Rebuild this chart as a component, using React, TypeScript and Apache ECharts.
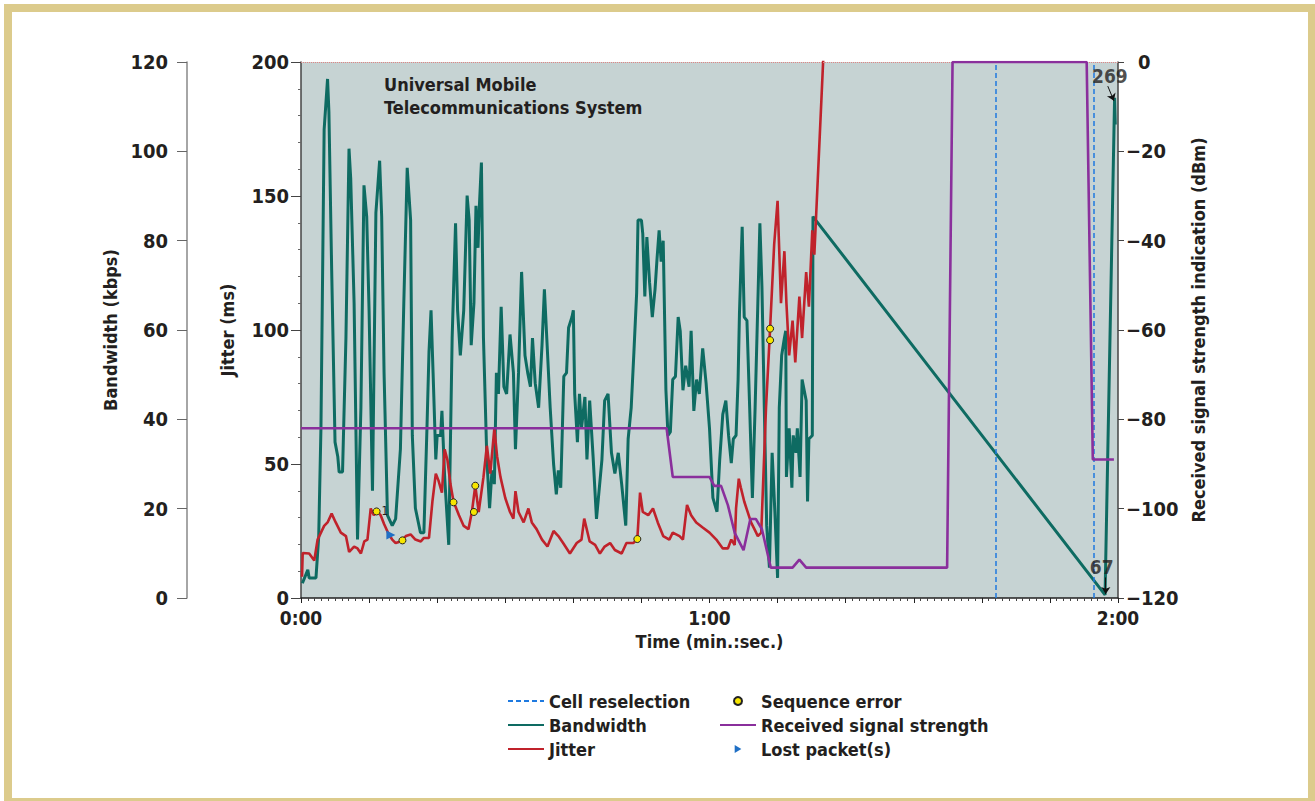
import React, { useEffect, useRef } from "react";
import * as echarts from "echarts";

const FONT = "'Liberation Sans Narrow', 'DejaVu Sans Condensed', 'Roboto Condensed', 'Liberation Sans', Arial, sans-serif";
const INK = "#231f20";

// ---- data (time in seconds) ----
const timeTickLabels = ["0:00", "1:00", "2:00"];
const bandwidthTicks = [0, 20, 40, 60, 80, 100, 120];
const jitterTicks = [0, 50, 100, 150, 200];
const rssiTicks = [-120, -100, -80, -60, -40, -20, 0];

const bandwidthTime = [
  0.2, 1.0, 1.2, 2.2, 2.6, 2.93, 3.4, 3.9, 4.1, 4.5, 5.0, 5.4, 5.6, 6.1, 6.6, 7.05, 7.3, 7.8, 8.3, 8.8,
  9.25, 9.65, 10.0, 10.5, 11.0, 11.55, 11.85, 12.2, 12.7, 13.4, 13.9, 14.6, 15.1, 15.6, 16.1, 16.35, 16.8, 17.55, 18.05, 18.5,
  18.8, 19.1, 19.4, 19.8, 20.0, 20.5, 20.7, 21.1, 21.7, 22.2, 22.7, 23.0, 23.4, 23.9, 24.4, 24.7, 25.0, 25.4, 25.7, 26.0,
  26.2, 26.5, 26.8, 27.3, 27.7, 28.05, 28.4, 28.7, 29.0, 29.4, 29.8, 30.2, 30.7, 31.2, 31.5, 31.95, 32.4, 32.9, 33.3, 33.7,
  34.0, 34.4, 34.9, 35.4, 35.75, 36.1, 36.6, 37.1, 37.5, 37.8, 38.15, 38.6, 39.0, 39.3, 39.8, 40.0, 40.2, 40.6, 40.9, 41.2,
  41.7, 42.0, 42.4, 42.9, 43.4, 44.2, 44.6, 45.1, 45.6, 46.1, 46.6, 47.1, 47.7, 48.05, 48.5, 48.9, 49.3, 49.5, 50.0, 50.2,
  50.5, 50.8, 51.2, 51.6, 52.0, 52.3, 52.6, 52.9, 53.2, 53.6, 53.9, 54.25, 54.6, 55.0, 55.4, 55.7, 56.1, 56.5, 57.0, 57.3,
  57.7, 58.1, 58.5, 59.0, 59.5, 60.0, 60.5, 61.1, 61.5, 61.95, 62.4, 62.8, 63.2, 63.5, 63.9, 64.2, 64.4, 64.8, 65.1, 65.5,
  65.9, 66.3, 66.7, 67.1, 67.4, 67.7, 68.05, 68.4, 68.8, 69.2, 69.6, 70.0, 70.25, 70.6, 71.0, 71.2, 71.3, 71.7, 72.1, 72.3,
  72.7, 72.9, 73.3, 73.6, 74.2, 74.4, 74.6, 75.1, 75.2, 118.1, 119.5, 119.6,
];
const bandwidthValue = [
  3.3, 6.3, 4.5, 4.5, 13.7, 38, 104.9, 116.2, 108.8, 73.8, 34.9, 31.7, 28.2, 28.2, 58.2, 100.6, 94, 66, 13.1, 42.6,
  92.4, 85.4, 64.4, 24, 86.2, 97.9, 85.4, 50.4, 18.5, 16.2, 17.7, 33.3, 66, 96.3, 84.6, 36.4, 20.1, 14.6, 14.6, 38,
  55.1, 64.4, 50.4, 31, 36.4, 36.4, 41.9, 27.1, 11.9, 58.2, 83.9, 64.4, 54.3, 64.4, 90.1, 84.6, 56.6, 66, 87.8, 78.4,
  87.8, 97.5, 58.2, 31, 20.1, 28.6, 25.5, 50.4, 45.7, 65.2, 47.3, 45.7, 59, 50.4, 33.3, 50.4, 73, 54.3, 50.4, 47.3,
  58.2, 48.1, 42.6, 56.6, 69.1, 58.2, 42.6, 30, 23.2, 28.6, 24.7, 49.6, 50.4, 60.5, 62.9, 64.4, 45.7, 34.9, 45.7, 38,
  45, 31, 44.2, 31.7, 17.7, 31, 44.2, 45.7, 32.5, 27.9, 32.5, 25.5, 16.2, 35.6, 42.6, 55.1, 68.3, 84.6, 84.6, 81.5,
  67.5, 80.8, 70.6, 62.9, 69.1, 76.1, 82.3, 75.3, 80, 46.5, 36.4, 37.2, 48.9, 49.6, 62.9, 59.8, 46.5, 52, 47.3, 59.8,
  41.9, 48.9, 45.7, 55.9, 48.1, 38, 22.4, 19.3, 31, 41.1, 44.2, 36.4, 30.2, 35.6, 36.4, 48.9, 63.7, 83.1, 62.9, 62.1,
  42.6, 22.4, 42.6, 66, 83.9, 69.8, 42.6, 16.2, 6.8, 32.5, 19.3, 4.5, 42.6, 54.3, 58.2, 59.8, 27.1, 38, 24.7, 36.4,
  32.5, 38, 27.1, 48.9, 44.2, 21.6, 35.6, 36.4, 85.4, 0.7, 112, 106,
];

const jitterTime = [
  0.15, 0.25, 1.2, 1.95, 2.44, 2.93, 3.4, 3.9, 4.5, 5.1, 5.85, 6.6, 7.07, 7.8, 8.3, 8.8, 9.3, 9.76, 10.24, 10.7,
  11.1, 11.7, 12.2, 12.9, 13.4, 13.9, 14.6, 15.4, 16.1, 16.8, 17.6, 18.05, 18.8, 19.3, 19.8, 20.2, 20.7, 21.1, 21.5, 21.95,
  22.4, 23.2, 23.9, 24.6, 25.1, 25.6, 26.1, 26.8, 27.3, 27.8, 28.4, 28.8, 29.3, 30.0, 30.7, 31.2, 31.5, 31.95, 32.7, 33.4,
  33.9, 34.6, 35.4, 36.2, 37.1, 37.8, 38.5, 39.5, 40.5, 41.2, 41.6, 42.4, 43.2, 43.9, 44.6, 45.4, 46.1, 47.1, 47.8, 48.8,
  49.4, 49.8, 50.2, 51.0, 51.7, 52.4, 53.2, 54.1, 54.6, 55.6, 56.1, 56.7, 57.3, 58.05, 59.0, 60.0, 61.0, 61.95, 62.7, 63.2,
  63.7, 63.9, 64.3, 64.6, 65.1, 65.6, 66.1, 66.6, 67.1, 67.6, 68.3, 68.9, 69.5, 70.0, 70.5, 71.0, 71.3, 71.7, 72.2, 72.6,
  73.2, 73.6, 74.2, 74.6, 75.1, 75.4, 76.7, 77.2,
];
const jitterValue = [
  7.9, 16.8, 16.6, 14.0, 21.8, 24.4, 26.9, 28.2, 31.5, 28.2, 24.4, 23.1, 17.2, 19.2, 18.5, 16.6, 21.1, 21.8, 33.4, 30.9,
  32.4, 30.9, 27.6, 23.7, 21.8, 20.5, 21.1, 23.1, 23.7, 21.8, 21.1, 22.4, 22.4, 36, 46.4, 43.8, 39.3, 55.5, 51.6, 42.5,
  36, 30.9, 26.9, 25.7, 32.1, 41.9, 32.1, 45.1, 56.8, 46.4, 63.3, 52.9, 45.1, 37.3, 32.1, 29.6, 39.9, 32.1, 28.2, 33.4,
  28.2, 25.7, 21.8, 19.2, 25, 23.1, 20.5, 16.6, 20.5, 21.8, 29.6, 21.1, 19.8, 16.6, 19.2, 20.5, 17.9, 16.6, 20.5, 20.5,
  22, 39.3, 32.1, 30.9, 33.4, 28.2, 23.1, 21.8, 24.4, 23.1, 21.8, 34.7, 30.9, 28.2, 26.3, 24.4, 21.8, 18.5, 18.5, 21.8,
  19.8, 33.4, 44.5, 41.2, 36, 32.1, 28.2, 25.7, 23.1, 24.4, 71, 100.5, 132, 148.2, 110, 129.4, 110, 90.5, 103.5, 87.9,
  112.5, 97, 121.6, 108.7, 137.2, 128.1, 200.7, 215,
];

const rssiTime = [0, 53.7, 54.6, 60.0, 60.7, 61.7, 62.7, 63.7, 65.0, 66.0, 66.8, 67.7, 69.0, 72.2, 73.2, 74.2, 94.9, 95.7, 115.4, 116.3, 119.4];
const rssiValue = [-82, -82, -92.9, -92.9, -94.9, -94.9, -99.2, -105.4, -109.3, -102.3, -102.3, -104.6, -113.2, -113.2, -111.4, -113.2, -113.2, 0, 0, -89, -89];

const cellReselectionTime = [102, 116.4];

const seqErrorTime = [11.1, 14.9, 22.4, 25.4, 25.6, 49.4, 68.9, 68.9];
const seqErrorValue = [32.3, 21.5, 35.7, 32.1, 41.9, 22.0, 100.5, 96.2];

const lostPacketTime = [13.2];
const lostPacketValue = [23.5];

// off-scale annotations on the bandwidth trace
const annotationText = ["269", "67"];
const annotationPos = [[118.8, 116.9], [117.6, 6.9]];
const annotationArrowFrom = [[118.5, 114.6], [118.2, 4.6]];
const annotationArrowTo = [[119.4, 111.3], [118.2, 0.9]];

const zip = (a: number[], b: number[]) => a.map((t, i) => [t, b[i]]);

export default function App() {
  const ref = useRef<HTMLDivElement>(null);
  useEffect(() => {
    document.body.style.margin = "0";
    const chart = echarts.init(ref.current!, undefined, { renderer: "svg" });
    const labelStyle = { fontFamily: FONT, fontWeight: "bold" as const, fontSize: 20, lineHeight: 16, color: INK };
    const nameStyle = { fontFamily: FONT, fontWeight: "bold" as const, fontSize: 18, color: INK };
    const hiddenDot = { color: "rgba(0,0,0,0)", borderWidth: 0, opacity: 0 };
    const cellBlue = "#1f7ae0";
    const legendBase = {
      orient: "vertical",
      top: 692,
      padding: 0,
      itemWidth: 36,
      itemHeight: 8,
      itemGap: 6,
      textStyle: { ...nameStyle, lineHeight: 18 },
    };
    chart.setOption({
      animation: false,
      backgroundColor: "#ffffff",
      textStyle: { fontFamily: FONT },
      title: {
        text: "Universal Mobile\nTelecommunications System",
        left: 379,
        top: 68,
        textStyle: { fontFamily: FONT, fontWeight: "bold", fontSize: 18, lineHeight: 23, color: INK },
      },
      grid: {
        left: 301,
        right: 197,
        top: 62,
        bottom: 203,
        show: true,
        backgroundColor: "#c6d3d3",
        borderWidth: 0,
      },
      legend: [
        {
          ...legendBase,
          left: 507,
          data: [
            { name: "Cell reselection", itemStyle: hiddenDot },
            { name: "Bandwidth", itemStyle: hiddenDot },
            { name: "Jitter", itemStyle: hiddenDot },
          ],
        },
        {
          ...legendBase,
          left: 719,
          data: [
            { name: "Sequence error", icon: "circle" },
            { name: "Received signal strength", itemStyle: hiddenDot },
            { name: "Lost packet(s)", icon: "path://M0,0L10,6L0,12Z" },
          ],
        },
      ],
      xAxis: {
        type: "value",
        min: 0,
        max: 120,
        interval: 10,
        name: "Time (min.:sec.)",
        nameLocation: "middle",
        nameGap: 33,
        nameTextStyle: nameStyle,
        axisLine: { show: true, onZero: false, lineStyle: { color: "#222", width: 1.5 } },
        axisTick: { show: true, length: 5, lineStyle: { color: "#222" } },
        minorTick: { show: true, splitNumber: 10, length: 3, lineStyle: { color: "#444" } },
        splitLine: { show: false },
        axisLabel: {
          ...labelStyle,
          fontSize: 19,
          margin: 12,
          formatter: (v: number) => (v % 60 === 0 ? timeTickLabels[v / 60] : ""),
        },
      },
      yAxis: [
        {
          type: "value",
          position: "left",
          min: jitterTicks[0],
          max: jitterTicks[jitterTicks.length - 1],
          interval: 50,
          name: "Jitter (ms)",
          nameLocation: "middle",
          nameRotate: 90,
          nameGap: 65,
          nameTextStyle: nameStyle,
          axisLine: { show: true, lineStyle: { color: "#444", width: 1.5 } },
          axisTick: { show: true, length: 10, lineStyle: { color: "#444" } },
          minorTick: { show: true, splitNumber: 5, length: 3, lineStyle: { color: "#666" } },
          splitLine: { show: false },
          axisLabel: { ...labelStyle, margin: 12 },
        },
        {
          type: "value",
          position: "left",
          offset: 114,
          min: bandwidthTicks[0],
          max: bandwidthTicks[bandwidthTicks.length - 1],
          interval: 20,
          name: "Bandwidth (kbps)",
          nameLocation: "middle",
          nameRotate: 90,
          nameGap: 46,
          nameTextStyle: nameStyle,
          axisLine: { show: true, lineStyle: { color: "#888", width: 1.5 } },
          axisTick: { show: true, length: 10, lineStyle: { color: "#666" } },
          splitLine: { show: false },
          axisLabel: { ...labelStyle, margin: 19 },
        },
        {
          type: "value",
          position: "right",
          min: rssiTicks[0],
          max: rssiTicks[rssiTicks.length - 1],
          interval: 20,
          name: "Received signal strength indication (dBm)",
          nameLocation: "middle",
          nameRotate: 90,
          nameGap: 62,
          nameTextStyle: nameStyle,
          axisLine: { show: true, lineStyle: { color: "#444", width: 1.5 } },
          axisTick: { show: true, length: 6, lineStyle: { color: "#444" } },
          splitLine: { show: false },
          axisLabel: {
            ...labelStyle,
            margin: 8,
            formatter: (v: number) => (v === 0 ? "{z|0}" : "\u2212" + Math.abs(v)),
            rich: { z: { ...labelStyle, padding: [0, 0, 0, 12] } },
          },
        },
      ],
      series: [
        {
          name: "Cell reselection",
          type: "line",
          data: [],
          symbol: "none",
          lineStyle: { color: cellBlue, width: 1.5, type: [5, 3] },
          itemStyle: { color: cellBlue },
          markLine: {
            silent: true,
            symbol: "none",
            label: { show: false },
            lineStyle: { color: cellBlue, width: 1.5, type: [5, 3], opacity: 1 },
            data: cellReselectionTime.map((t) => ({ xAxis: t })),
          },
        },
        {
          name: "Bandwidth",
          type: "line",
          yAxisIndex: 1,
          data: zip(bandwidthTime, bandwidthValue),
          symbol: "none",
          lineStyle: { color: "#0e6b62", width: 3 },
          itemStyle: { color: "#0e6b62" },
          z: 3,
          markLine: {
            silent: true,
            symbol: ["none", "arrow"],
            symbolSize: 7,
            label: { show: false },
            lineStyle: { color: "#111", width: 1, type: "solid" },
            data: annotationArrowFrom.map((p, i) => [{ coord: p }, { coord: annotationArrowTo[i] }]),
          },
        },
        {
          name: "Jitter",
          type: "line",
          yAxisIndex: 0,
          data: zip(jitterTime, jitterValue),
          symbol: "none",
          lineStyle: { color: "#c0222b", width: 2.6 },
          itemStyle: { color: "#c0222b" },
          z: 4,
          markLine: {
            silent: true,
            symbol: "none",
            label: { show: false },
            lineStyle: { color: "#e08585", width: 1, type: "dotted" },
            data: [{ yAxis: jitterTicks[jitterTicks.length - 1] }],
          },
        },
        {
          name: "Received signal strength",
          type: "line",
          yAxisIndex: 2,
          data: zip(rssiTime, rssiValue),
          symbol: "none",
          lineStyle: { color: "#8a2f9c", width: 2.6 },
          itemStyle: { color: "#8a2f9c" },
          z: 5,
        },
        {
          name: "Sequence error",
          type: "scatter",
          yAxisIndex: 0,
          symbol: "circle",
          symbolSize: 7,
          itemStyle: { color: "#f7e600", borderColor: "#222", borderWidth: 1, opacity: 1 },
          z: 6,
          data: seqErrorTime.map((t, i) =>
            i === 0
              ? { value: [t, seqErrorValue[i]], label: { show: true, formatter: "1", position: "right", distance: 1, fontSize: 12, color: INK, fontFamily: FONT } }
              : { value: [t, seqErrorValue[i]] }
          ),
        },
        {
          name: "Lost packet(s)",
          type: "scatter",
          yAxisIndex: 0,
          symbol: "triangle",
          symbolRotate: -90,
          symbolSize: 9,
          itemStyle: { color: "#1f6fc5", opacity: 1 },
          z: 6,
          data: zip(lostPacketTime, lostPacketValue),
        },
        {
          name: "annotations",
          type: "scatter",
          yAxisIndex: 1,
          symbolSize: 0,
          silent: true,
          z: 7,
          label: { show: true, position: "inside", formatter: (p: any) => annotationText[p.dataIndex], ...labelStyle, fontSize: 19 },
          data: annotationPos,
        },
      ],
      graphic: [
        {
          type: "rect",
          silent: true,
          z: 100,
          shape: { x: 8, y: 8, width: 1304, height: 794 },
          style: { fill: "none", stroke: "#dccb8c", lineWidth: 8 },
        },
      ],
    });
    return () => chart.dispose();
  }, []);
  return <div ref={ref} style={{ width: 1315, height: 801 }} />;
}
